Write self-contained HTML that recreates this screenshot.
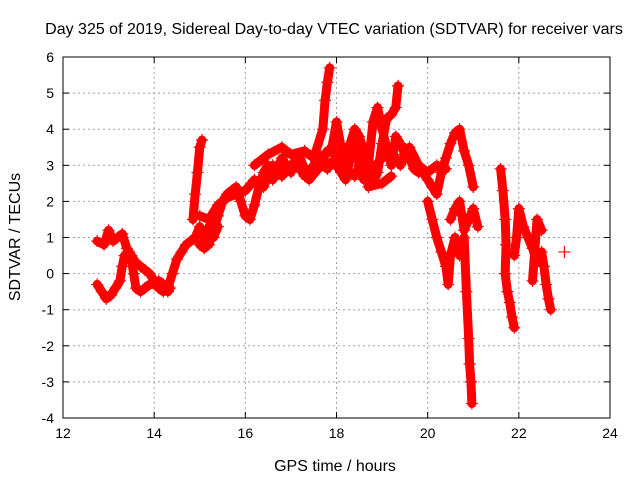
<!DOCTYPE html>
<html><head><meta charset="utf-8"><style>
body{margin:0;background:#fff}
svg{display:block;font-family:"Liberation Sans",sans-serif}
</style></head><body>
<svg id="chart" width="640" height="480" viewBox="0 0 640 480">
<text x="334" y="34" font-size="16" text-anchor="middle">Day 325 of 2019, Sidereal Day-to-day VTEC variation (SDTVAR) for receiver vars</text>
<text x="335" y="471" font-size="16" text-anchor="middle">GPS time / hours</text>
<text transform="translate(20,237) rotate(-90)" font-size="16" text-anchor="middle">SDTVAR / TECUs</text>
<g id="grid"></g>
<g id="axes"></g>
<g id="marks"></g>
<rect x="63" y="57" width="547" height="361" fill="none" stroke="#000" stroke-width="1"/>
</svg>
<script>
const xTicks=[12,14,16,18,20,22,24];
const yTicks=[-4,-3,-2,-1,0,1,2,3,4,5,6];
const trackUpperLoop=[[12.75,0.9],[12.9,0.8],[13.0,1.2],[13.1,0.9],[13.2,1.0],[13.3,1.1],[13.4,0.7],[13.5,0.5],[13.6,0.3],[13.7,0.2],[13.8,0.1],[13.9,0.0],[14.0,-0.2],[14.1,-0.4],[14.2,-0.5],[14.3,-0.4]];
const trackLowerLoop=[[12.75,-0.3],[12.85,-0.5],[12.95,-0.7],[13.05,-0.6],[13.15,-0.4],[13.25,-0.2],[13.3,0.2],[13.35,0.5],[13.45,0.6],[13.5,0.4],[13.55,0.0],[13.6,-0.4],[13.7,-0.5],[13.8,-0.4],[13.9,-0.3],[14.0,-0.3],[14.1,-0.2],[14.2,-0.3],[14.3,-0.5],[14.35,-0.4]];
const trackMain=[[14.3,-0.4],[14.4,0.0],[14.5,0.4],[14.6,0.6],[14.7,0.8],[14.8,0.9],[14.9,1.0],[15.0,1.3],[15.1,1.0],[15.2,0.8],[15.3,1.2],[15.4,1.6],[15.5,2.0],[15.6,2.2],[15.7,2.3],[15.8,2.4],[15.9,2.0],[16.0,1.6],[16.1,1.5],[16.2,1.9],[16.3,2.4],[16.4,2.8],[16.5,3.0],[16.6,2.6],[16.7,2.9],[16.8,3.2],[16.9,3.0],[17.0,2.8],[17.1,3.1],[17.2,2.9],[17.3,2.7],[17.4,2.8],[17.5,3.0],[17.6,3.3],[17.7,3.0],[17.8,2.9],[17.9,3.1],[18.0,3.0],[18.1,2.8],[18.2,2.6],[18.3,3.2],[18.4,3.6],[18.5,3.0],[18.6,2.6],[18.7,3.0],[18.8,4.2],[18.9,4.6],[19.0,4.0],[19.1,3.5],[19.2,3.0],[19.3,3.8],[19.4,3.6],[19.5,3.3],[19.6,3.2],[19.7,2.9],[19.8,2.8],[19.9,2.8],[20.0,2.6],[20.1,2.4],[20.2,2.2],[20.3,2.8],[20.4,3.2],[20.5,3.6],[20.6,3.9],[20.7,4.0],[20.8,3.4],[20.9,3.0],[21.0,2.4]];
const trackSpike15=[[14.85,1.5],[14.9,2.2],[14.95,2.8],[15.0,3.5],[15.05,3.7]];
const trackLow15=[[15.0,0.8],[15.1,0.7],[15.2,1.3],[15.3,1.0],[15.4,1.3]];
const trackBand15=[[15.0,1.6],[15.2,1.5],[15.4,1.9],[15.6,2.1],[15.8,2.2],[16.0,2.3],[16.2,2.6],[16.4,2.4],[16.6,3.0],[16.8,2.7],[17.0,3.0],[17.2,3.2],[17.4,2.6],[17.6,2.9],[17.8,3.4],[18.0,3.3],[18.2,2.9],[18.4,2.7],[18.6,3.3],[18.8,2.9],[19.0,3.2],[19.2,3.4],[19.4,3.0],[19.6,3.5],[19.8,3.0],[20.0,2.8],[20.2,3.0],[20.4,2.9]];
const trackUpper17=[[16.2,3.0],[16.5,3.3],[16.8,3.5],[17.0,3.3],[17.3,3.4],[17.5,3.2],[17.7,4.0],[17.75,4.8],[17.8,5.3],[17.85,5.7]];
const trackUpper19=[[17.9,3.5],[18.0,4.2],[18.1,3.5],[18.2,3.2],[18.3,3.6],[18.4,4.0],[18.5,3.8],[18.6,3.4],[18.7,3.0],[18.8,2.5],[18.9,2.8],[19.0,3.6],[19.1,4.3],[19.2,4.4],[19.3,4.6],[19.35,5.2]];
const trackDip19=[[18.7,2.4],[19.0,2.5],[19.2,2.7]];
const trackDrop21=[[20.0,2.0],[20.1,1.5],[20.2,1.0],[20.3,0.6],[20.4,0.2],[20.45,-0.3],[20.5,0.5],[20.6,1.0],[20.7,0.5],[20.8,1.0],[20.85,-0.5],[20.9,-1.8],[20.92,-2.5],[20.95,-3.0],[20.97,-3.6]];
const trackMid21=[[20.5,1.5],[20.6,1.8],[20.7,2.0],[20.8,1.2],[20.9,1.5],[21.0,1.8],[21.1,1.3]];
const trackLate1=[[21.6,2.9],[21.65,2.3],[21.7,1.5],[21.72,0.8],[21.7,0.0],[21.75,-0.5],[21.8,-0.8],[21.85,-1.2],[21.9,-1.5]];
const trackLate2=[[21.9,0.5],[21.95,1.0],[22.0,1.8],[22.1,1.3],[22.2,1.0],[22.3,0.7],[22.4,0.3],[22.5,0.6],[22.55,0.2],[22.6,-0.3],[22.65,-0.7],[22.7,-1.0]];
const trackLate3=[[22.3,-0.2],[22.4,1.5],[22.5,1.2]];
const trackLone=[[23.0,0.6]];
const tracks=[trackUpperLoop,trackLowerLoop,trackMain,trackSpike15,trackLow15,trackBand15,trackUpper17,trackUpper19,trackDip19,trackDrop21,trackMid21,trackLate1,trackLate2,trackLate3,trackLone];

const X0=63,X1=610,Y0=418,Y1=57;
const xs=h=>X0+(h-12)/(24-12)*(X1-X0);
const ys=v=>Y0-(v+4)/10*(Y0-Y1);
const NS="http://www.w3.org/2000/svg";
function mk(tag,attrs,parent){const e=document.createElementNS(NS,tag);for(const k in attrs)e.setAttribute(k,attrs[k]);parent.appendChild(e);return e;}
const grid=document.getElementById('grid'),axes=document.getElementById('axes'),marks=document.getElementById('marks');
xTicks.forEach(t=>{
  const x=xs(t);
  if(t>12&&t<24){const g=mk('line',{x1:x,x2:x,y1:Y1,y2:Y0,stroke:'#a0a0a0','stroke-dasharray':'2,3'},grid);
  
  }
  mk('line',{x1:x,x2:x,y1:Y0,y2:Y0-6,stroke:'#000'},axes);
  mk('line',{x1:x,x2:x,y1:Y1,y2:Y1+6,stroke:'#000'},axes);
  const l=mk('text',{x:x,y:Y0+20,'font-size':14,'text-anchor':'middle'},axes);
  l.textContent=t;
  
  
});
yTicks.forEach(t=>{
  const y=ys(t);
  if(t>-4&&t<6){const g=mk('line',{x1:X0,x2:X1,y1:y,y2:y,stroke:'#a0a0a0','stroke-dasharray':'2,3'},grid);
  
  }
  mk('line',{x1:X0,x2:X0+6,y1:y,y2:y,stroke:'#000'},axes);
  mk('line',{x1:X1,x2:X1-6,y1:y,y2:y,stroke:'#000'},axes);
  const l=mk('text',{x:X0-9,y:y+5,'font-size':14,'text-anchor':'end'},axes);
  l.textContent=t;
  
  
});
tracks.forEach(tr=>{
  if(tr.length>1){
    const p=mk('polyline',{points:tr.map(d=>xs(d[0])+','+ys(d[1])).join(' '),fill:'none',stroke:'#f00','stroke-width':9,'stroke-linejoin':'round','stroke-linecap':'round'},marks);
    
    
  }
  tr.forEach(d=>{
    const x=xs(d[0]),y=ys(d[1]);
    const m=mk('path',{d:`M${x-6},${y}H${x+6}M${x},${y-6}V${y+6}`,stroke:'#f00','stroke-width':1.2},marks);
    
    
  });
});
</script>
</body></html>
